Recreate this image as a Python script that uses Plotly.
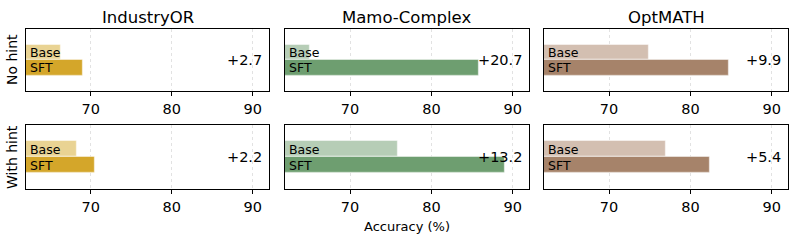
import plotly.graph_objects as go
from plotly.subplots import make_subplots

datasets = ["IndustryOR", "Mamo-Complex", "OptMATH"]
conditions = ["No hint", "With hint"]
base_no_hint = [66.3, 65.1, 74.9]
sft_no_hint = [69.0, 85.8, 84.8]
base_with_hint = [68.3, 75.9, 77.0]
sft_with_hint = [70.5, 89.1, 82.4]
deltas_no_hint = ["+2.7", "+20.7", "+9.9"]
deltas_with_hint = ["+2.2", "+13.2", "+5.4"]
tick_vals = [70, 80, 90]
x_range = [62, 92]

sft_colors = ["#D4A62A", "#6E9E70", "#A6836A"]
base_colors = ["#E9D393", "#B6CDB6", "#D3BFB1"]

FONT = "DejaVu Sans"
W, H = 797, 242

fig = make_subplots(rows=2, cols=3)

x_dom = [(26, 269), (285, 529), (544, 788)]
y_dom = [(29, 91), (125, 189)]

rows = [(base_no_hint, sft_no_hint, deltas_no_hint), (base_with_hint, sft_with_hint, deltas_with_hint)]

for r, (bvals, svals, dvals) in enumerate(rows):
    for c in range(3):
        fig.add_trace(go.Bar(
            x=[bvals[c], svals[c]], y=[0.25, -0.25], orientation="h", width=0.5,
            marker=dict(color=[base_colors[c], sft_colors[c]],
                        line=dict(color="rgba(255,255,255,0.45)", width=1.2)),
            showlegend=False, hoverinfo="x"),
            row=r + 1, col=c + 1)
        idx = r * 3 + c + 1
        xa = "x" if idx == 1 else f"x{idx}"
        ya = "y" if idx == 1 else f"y{idx}"
        fig.add_annotation(x=x_range[0] + 0.3, y=0.25, xref=xa, yref=ya, text="Base",
                           showarrow=False, xanchor="left", yanchor="middle",
                           font=dict(family=FONT, size=12.5, color="black"))
        fig.add_annotation(x=x_range[0] + 0.3, y=-0.25, xref=xa, yref=ya, text="SFT",
                           showarrow=False, xanchor="left", yanchor="middle",
                           font=dict(family=FONT, size=12.5, color="black"))
        fig.add_annotation(x=0.978, y=0, xref=f"{xa} domain", yref=ya, text=dvals[c],
                           showarrow=False, xanchor="right", yanchor="middle",
                           font=dict(family=FONT, size=14.5, color="black"))

for r in range(2):
    for c in range(3):
        idx = r * 3 + c + 1
        xk = "xaxis" if idx == 1 else f"xaxis{idx}"
        yk = "yaxis" if idx == 1 else f"yaxis{idx}"
        x0, x1 = x_dom[c]
        yt, yb = y_dom[r]
        fig.layout[xk].update(
            domain=[x0 / W, x1 / W], range=x_range, tickvals=tick_vals,
            showline=True, linecolor="black", linewidth=1.2, mirror=True,
            ticks="outside", ticklen=4, tickcolor="black",
            showgrid=True, gridcolor="#E2E2E2", griddash="dot", gridwidth=1,
            zeroline=False, tickfont=dict(family=FONT, size=14.5, color="black"))
        fig.layout[yk].update(
            domain=[1 - yb / H, 1 - yt / H], range=[-1, 1],
            showline=True, linecolor="black", linewidth=1.2, mirror=True,
            showticklabels=False, ticks="", showgrid=False, zeroline=False)

for c, name in enumerate(datasets):
    x0, x1 = x_dom[c]
    fig.add_annotation(x=(x0 + x1) / 2 / W, y=1 - 18 / H, xref="paper", yref="paper",
                       text=name, showarrow=False, xanchor="center", yanchor="middle",
                       font=dict(family=FONT, size=16.5, color="black"))

for r, name in enumerate(conditions):
    yt, yb = y_dom[r]
    fig.add_annotation(x=12 / W, y=1 - (yt + yb) / 2 / H, xref="paper", yref="paper",
                       text=name, showarrow=False, textangle=-90,
                       xanchor="center", yanchor="middle",
                       font=dict(family=FONT, size=14, color="black"))

fig.add_annotation(x=407 / W, y=1 - 226 / H, xref="paper", yref="paper",
                   text="Accuracy (%)", showarrow=False, xanchor="center", yanchor="middle",
                   font=dict(family=FONT, size=13, color="black"))

fig.update_layout(width=W, height=H, margin=dict(l=0, r=0, t=0, b=0),
                  plot_bgcolor="white", paper_bgcolor="white", bargap=0)

fig.write_html("out.html", config={"displayModeBar": False},
               post_script="document.body.style.margin='0';document.body.style.padding='0';")
